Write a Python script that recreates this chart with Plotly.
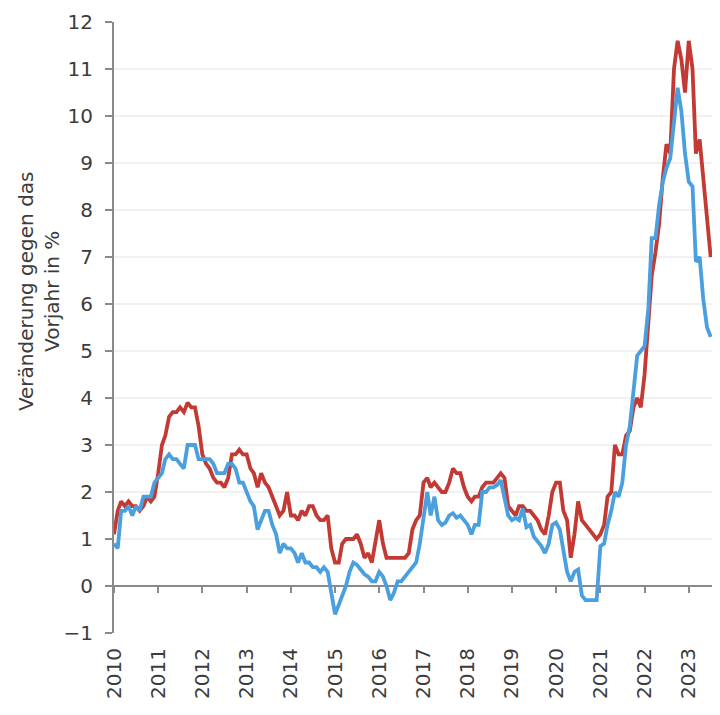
import pandas as pd
import plotly.graph_objects as go

# Monthly year-on-year change in %, Jan 2010 - Jul 2023
red_values = [
    1.1, 1.6, 1.8, 1.7, 1.8, 1.7, 1.7, 1.6, 1.7, 1.9, 1.8, 1.9,   # 2010
    2.4, 3.0, 3.2, 3.6, 3.7, 3.7, 3.8, 3.7, 3.9, 3.8, 3.8, 3.4,   # 2011
    2.8, 2.6, 2.5, 2.3, 2.2, 2.2, 2.1, 2.3, 2.8, 2.8, 2.9, 2.8,   # 2012
    2.8, 2.5, 2.4, 2.1, 2.4, 2.2, 2.1, 1.9, 1.7, 1.5, 1.6, 2.0,   # 2013
    1.5, 1.5, 1.4, 1.6, 1.5, 1.7, 1.7, 1.5, 1.4, 1.4, 1.5, 0.8,   # 2014
    0.5, 0.5, 0.9, 1.0, 1.0, 1.0, 1.1, 0.9, 0.6, 0.7, 0.5, 1.0,   # 2015
    1.4, 0.9, 0.6, 0.6, 0.6, 0.6, 0.6, 0.6, 0.7, 1.2, 1.4, 1.5,   # 2016
    2.2, 2.3, 2.1, 2.2, 2.1, 2.0, 2.0, 2.2, 2.5, 2.4, 2.4, 2.1,   # 2017
    1.9, 1.8, 1.9, 1.9, 2.1, 2.2, 2.2, 2.2, 2.3, 2.4, 2.3, 1.7,   # 2018
    1.6, 1.5, 1.7, 1.7, 1.6, 1.6, 1.5, 1.4, 1.2, 1.1, 1.5, 2.0,   # 2019
    2.2, 2.2, 1.6, 1.4, 0.6, 1.1, 1.8, 1.4, 1.3, 1.2, 1.1, 1.0,   # 2020
    1.1, 1.3, 1.9, 2.0, 3.0, 2.8, 2.8, 3.2, 3.3, 3.8, 4.0, 3.8,   # 2021
    4.5, 5.5, 6.6, 7.1, 7.7, 8.7, 9.4, 9.2, 11.0, 11.6, 11.2, 10.5,  # 2022
    11.6, 11.0, 9.2, 9.5, 8.7, 7.8, 7.0,                          # 2023
]

blue_values = [
    0.9, 0.8, 1.6, 1.6, 1.7, 1.5, 1.7, 1.6, 1.9, 1.9, 1.9, 2.2,   # 2010
    2.3, 2.4, 2.7, 2.8, 2.7, 2.7, 2.6, 2.5, 3.0, 3.0, 3.0, 2.7,   # 2011
    2.7, 2.7, 2.7, 2.6, 2.4, 2.4, 2.4, 2.6, 2.6, 2.5, 2.2, 2.2,   # 2012
    2.0, 1.8, 1.7, 1.2, 1.4, 1.6, 1.6, 1.3, 1.1, 0.7, 0.9, 0.8,   # 2013
    0.8, 0.7, 0.5, 0.7, 0.5, 0.5, 0.4, 0.4, 0.3, 0.4, 0.3, -0.2,  # 2014
    -0.6, -0.4, -0.2, 0.0, 0.3, 0.5, 0.45, 0.35, 0.25, 0.2, 0.1, 0.1,  # 2015
    0.3, 0.2, 0.0, -0.3, -0.15, 0.1, 0.1, 0.2, 0.3, 0.4, 0.5, 0.9,  # 2016
    1.5, 2.0, 1.5, 1.9, 1.4, 1.3, 1.35, 1.5, 1.55, 1.45, 1.5, 1.4,  # 2017
    1.3, 1.1, 1.3, 1.3, 2.0, 2.0, 2.1, 2.1, 2.15, 2.25, 1.9, 1.5,  # 2018
    1.4, 1.45, 1.4, 1.65, 1.25, 1.3, 1.05, 0.95, 0.85, 0.7, 0.9, 1.3,  # 2019
    1.35, 1.2, 0.7, 0.3, 0.1, 0.3, 0.35, -0.2, -0.3, -0.3, -0.3, -0.3,  # 2020
    0.85, 0.9, 1.3, 1.6, 2.0, 1.9, 2.2, 3.0, 3.4, 4.1, 4.9, 5.0,  # 2021
    5.1, 5.9, 7.4, 7.4, 8.1, 8.6, 8.9, 9.1, 9.9, 10.6, 10.1, 9.2,  # 2022
    8.6, 8.5, 6.9, 7.0, 6.1, 5.5, 5.3,                            # 2023
]

years = list(range(2010, 2024))
y_title = "Veränderung gegen das<br>Vorjahr in %"

dates = pd.date_range("2010-01-01", periods=len(red_values), freq="MS")
year_ticks = [pd.Timestamp(f"{y}-01-01") for y in years]
year_labels = [str(y) for y in years]

RED = "#C23A33"
BLUE = "#4A9FDE"
AXIS = "#8a8a8a"
TEXT = "#3c3c3c"
FONT = "DejaVu Sans"

fig = go.Figure()
fig.add_trace(go.Scatter(x=dates, y=red_values, mode="lines",
                         line=dict(color=RED, width=3.8), hoverinfo="skip"))
fig.add_trace(go.Scatter(x=dates, y=blue_values, mode="lines",
                         line=dict(color=BLUE, width=3.8), hoverinfo="skip"))
# helper trace so that the tick-only axis at y = 0 is rendered
fig.add_trace(go.Scatter(x=dates[:1], y=[None], xaxis="x2", mode="lines",
                         line=dict(width=0), hoverinfo="skip"))

fig.update_layout(
    width=704, height=699,
    margin=dict(l=106, r=0, t=14, b=74),
    plot_bgcolor="white", paper_bgcolor="white",
    showlegend=False,
    font=dict(family=FONT, color=TEXT, size=19),
    xaxis=dict(
        type="date",
        range=["2010-01-01", "2023-07-12"],
        tickmode="array", tickvals=year_ticks, ticktext=year_labels,
        tickangle=-90, showgrid=False, showline=False, zeroline=False,
        ticks="outside", ticklen=6, tickcolor="rgba(0,0,0,0)",
        tickfont=dict(size=20, family=FONT, color=TEXT),
    ),
    xaxis2=dict(
        type="date", overlaying="x", matches="x", anchor="free",
        position=1 / 13, side="bottom",
        tickmode="array", tickvals=year_ticks,
        showticklabels=False, showgrid=False, showline=False, zeroline=False,
        ticks="outside", ticklen=6, tickwidth=1.5, tickcolor=AXIS,
    ),
    yaxis=dict(
        range=[-1, 12], dtick=1, tick0=0,
        showline=True, linecolor=AXIS, linewidth=2,
        ticks="outside", ticklen=7, tickwidth=1.5, tickcolor=AXIS,
        showgrid=True, gridcolor="#f1f1f1", gridwidth=1.5,
        zeroline=True, zerolinecolor=AXIS, zerolinewidth=2,
        tickfont=dict(size=20, family=FONT, color=TEXT),
        ticklabelstandoff=8,
    ),
    annotations=[dict(
        text=y_title, textangle=-90, xref="paper", yref="paper",
        x=-0.125, y=0.56, xanchor="center", yanchor="middle",
        showarrow=False, align="center",
        font=dict(size=20, family=FONT, color=TEXT),
    )],
)

fig.write_html("out.html")
